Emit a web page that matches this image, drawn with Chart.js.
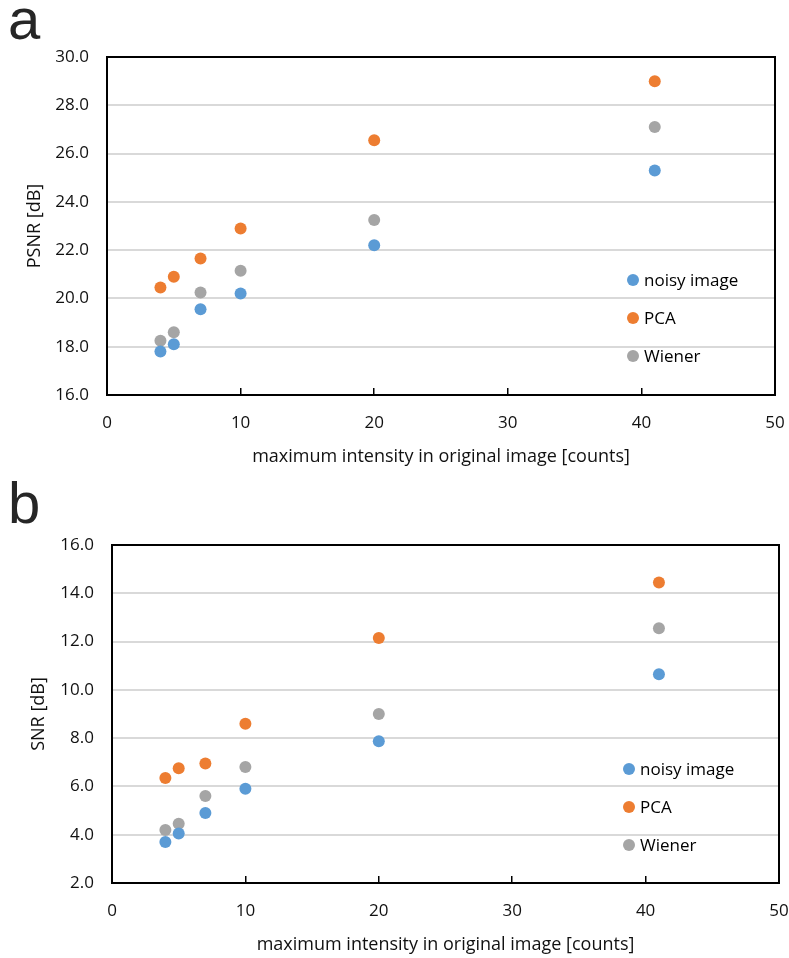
<!DOCTYPE html>
<html>
<head>
<meta charset="utf-8">
<script src="https://cdn.jsdelivr.net/npm/chart.js@4.4.1/dist/chart.umd.min.js"></script>
<style>
  body { margin: 0; background: #fff; width: 789px; height: 958px; position: relative; overflow: hidden; }
  .panel { position: absolute; left: 0; }
  .tag { position: absolute; left: 8px; font-family: "Liberation Sans", Arial, sans-serif; font-size: 58px; line-height: 1; color: #262626; }
</style>
</head>
<body>
<div class="tag" style="top:-10px">a</div>
<div class="tag" style="top:474px">b</div>
<canvas id="chart-a" class="panel" style="top:0" width="789" height="470"></canvas>
<canvas id="chart-b" class="panel" style="top:470px" width="789" height="488"></canvas>
<script>
// maximum intensity in original image [counts]
var intensity = [4, 5, 7, 10, 20, 41];

// panel a: PSNR [dB]
var psnrNoisy  = [17.8, 18.1, 19.55, 20.2, 22.2, 25.3];
var psnrPca    = [20.45, 20.9, 21.65, 22.9, 26.55, 29.0];
var psnrWiener = [18.25, 18.6, 20.25, 21.15, 23.25, 27.1];

// panel b: SNR [dB]
var snrNoisy  = [3.7, 4.05, 4.9, 5.9, 7.87, 10.65];
var snrPca    = [6.35, 6.75, 6.95, 8.6, 12.15, 14.45];
var snrWiener = [4.2, 4.45, 5.6, 6.8, 9.0, 12.55];

var seriesNames = ['noisy image', 'PCA', 'Wiener'];
var seriesColors = ['#5B9BD5', '#ED7D31', '#A5A5A5'];

var FONT = '"Open Sans", Lato, sans-serif';

function points(ys) {
    return intensity.map(function(x, i){ return {x: x, y: ys[i]}; });
}

// frame around the plot area + legend inside it, like the Excel original
var framePlugin = {
    id: 'frame',
    afterDraw: function(chart, args, opts) {
        var a = chart.chartArea, ctx = chart.ctx;
        ctx.save();
        ctx.strokeStyle = '#000';
        ctx.lineWidth = 2;
        ctx.strokeRect(a.left, a.top, a.right - a.left, a.bottom - a.top);

        ctx.font = '17px ' + FONT;
        ctx.textBaseline = 'middle';
        ctx.textAlign = 'left';
        chart.data.datasets.forEach(function(ds, i){
            var cx = a.right - opts.fromRight;
            var cy = a.bottom - opts.fromBottom + i * opts.step;
            ctx.fillStyle = ds.backgroundColor;
            ctx.beginPath();
            ctx.arc(cx, cy, 6, 0, Math.PI * 2);
            ctx.fill();
            ctx.fillStyle = '#000';
            ctx.fillText(ds.label, cx + 11, cy + 1);
        });
        ctx.restore();
    }
};

function makeChart(id, series, yMin, yMax, yTitle, legendPos, pad) {
    var ctx = document.getElementById(id).getContext('2d');
    return new Chart(ctx, {
        type: 'scatter',
        data: {
            datasets: series.map(function(ys, i){
                return {
                    label: seriesNames[i],
                    data: points(ys),
                    backgroundColor: seriesColors[i],
                    borderWidth: 0,
                    pointRadius: 6,
                    pointHoverRadius: 6
                };
            })
        },
        options: {
            responsive: false,
            animation: false,
            layout: { padding: pad },
            scales: {
                x: {
                    type: 'linear',
                    min: 0,
                    max: 50,
                    afterFit: function(s){
                        s.height = pad.xAxisH;
                        s.paddingLeft = 0;
                        s.paddingRight = 0;
                    },
                    border: { display: false },
                    grid: { drawOnChartArea: false, drawTicks: true, tickLength: -7, color: '#000', lineWidth: 1.5 },
                    ticks: { stepSize: 10, padding: 25, color: '#111', font: { family: FONT, size: 17 } },
                    title: {
                        display: true,
                        text: 'maximum intensity in original image [counts]',
                        color: '#111',
                        font: { family: FONT, size: 18 },
                        padding: { top: 0, bottom: 2 }
                    }
                },
                y: {
                    min: yMin,
                    max: yMax,
                    afterFit: function(s){
                        s.width = pad.yAxisW;
                        s.paddingTop = 0;
                        s.paddingBottom = 0;
                    },
                    border: { display: false },
                    grid: { color: '#D9D9D9', lineWidth: 2, drawTicks: false },
                    ticks: {
                        stepSize: 2,
                        padding: 18,
                        color: '#111',
                        font: { family: FONT, size: 17 },
                        callback: function(v){ return v.toFixed(1); }
                    },
                    title: {
                        display: true,
                        text: yTitle,
                        color: '#111',
                        font: { family: FONT, size: 18 },
                        padding: { top: pad.yTitlePad, bottom: 0 }
                    }
                }
            },
            plugins: {
                legend: { display: false },
                tooltip: { enabled: false },
                frame: legendPos
            }
        },
        plugins: [framePlugin]
    });
}

makeChart('chart-a', [psnrNoisy, psnrPca, psnrWiener], 16, 30, 'PSNR [dB]',
    { fromRight: 142, fromBottom: 115, step: 38 },
    { top: 57, right: 14, left: 0, bottom: 0, xAxisH: 75, yAxisW: 107, yTitlePad: 24 });

makeChart('chart-b', [snrNoisy, snrPca, snrWiener], 2, 16, 'SNR [dB]',
    { fromRight: 150, fromBottom: 114, step: 38 },
    { top: 75, right: 10, left: 0, bottom: 0, xAxisH: 75, yAxisW: 112, yTitlePad: 28 });
</script>
</body>
</html>
